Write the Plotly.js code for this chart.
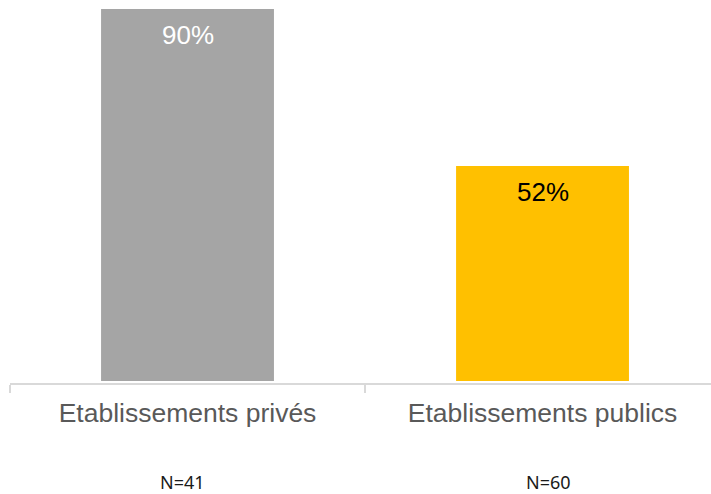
<!DOCTYPE html>
<html>
<head>
<meta charset="utf-8">
<script src="https://cdn.plot.ly/plotly-3.0.1.min.js"></script>
<style>html,body{margin:0;padding:0;background:#fff;}#chart{width:711px;height:494px;}</style>
</head>
<body>
<div id="chart"></div>
<script>
var categories = ["Etablissements privés", "Etablissements publics"];
var values = [0.90, 0.52];
var labels = ["90%", "52%"];
var sampleSizes = ["N=41", "N=60"];
var barColors = ["#A5A5A5", "#FFC000"];
var labelColors = ["#FFFFFF", "#000000"];

var trace = {
  type: "bar",
  x: categories,
  y: values,
  width: 0.487,
  marker: {color: barColors},
  hoverinfo: "none"
};

var annotations = [];
categories.forEach(function (c, i) {
  annotations.push({
    x: c, y: values[i], xref: "x", yref: "y",
    text: labels[i], showarrow: false,
    yanchor: "middle", yshift: -26,
    font: {family: "Liberation Sans, Arial, sans-serif", size: 26, color: labelColors[i]}
  });
  annotations.push({
    x: c, y: 0, xref: "paper" === "x" ? "x" : "x", yref: "paper",
    text: sampleSizes[i], showarrow: false,
    yanchor: "middle", yshift: -99, xshift: (i === 0 ? -5.5 : 5.5),
    font: {family: "Noto Sans, sans-serif", size: 18, color: "#1a1a1a"}
  });
});

var layout = {
  width: 711, height: 494,
  margin: {l: 10, r: 0, t: 9, b: 111, pad: 0},
  paper_bgcolor: "#ffffff", plot_bgcolor: "#ffffff",
  showlegend: false,
  xaxis: {
    type: "category",
    range: [-0.5, 1.4746],
    showline: true, linecolor: "#D9D9D9", linewidth: 1.5,
    ticks: "outside", tickson: "boundaries", ticklen: 8, tickcolor: "#D9D9D9", tickwidth: 1.5,
    ticklabelstandoff: 6,
    showgrid: false, zeroline: false,
    tickfont: {family: "Liberation Sans, Arial, sans-serif", size: 26.5, color: "#595959"},
    fixedrange: true
  },
  yaxis: {
    range: [-0.005, 0.9],
    visible: false, showgrid: false, zeroline: false, fixedrange: true
  },
  annotations: annotations
};

Plotly.newPlot("chart", [trace], layout, {displayModeBar: false, staticPlot: true});
</script>
</body>
</html>
